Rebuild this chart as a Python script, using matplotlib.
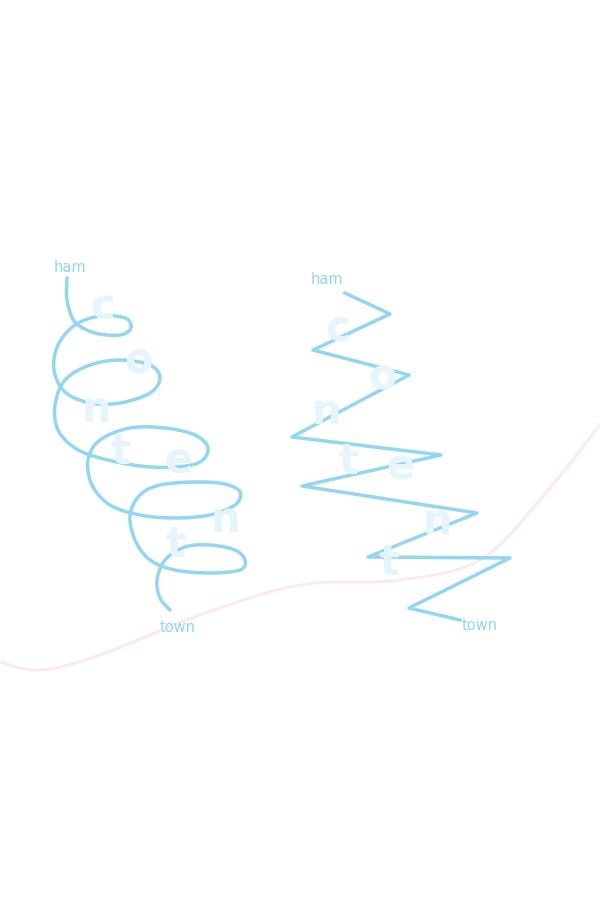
import numpy as np
import matplotlib
matplotlib.use("Agg")
import matplotlib.pyplot as plt

spiral_x = [67,67,75,95,120,131,125,100,75,58,54,65,90,120,150,160,150,120,90,65,55,58,75,100,140,175,200,208,195,165,130,100,88,92,110,140,175,210,235,240,225,195,160,140,130,135,150,175,210,240,245,235,210,185,165,157,160,170]
spiral_y = [278,300,322,333,335,328,318,316,325,345,370,392,403,403,393,378,365,360,365,380,405,430,448,458,466,467,462,448,435,428,428,440,460,485,505,515,518,515,505,492,484,482,485,495,515,540,560,570,573,570,560,550,545,547,560,580,598,610]
zig_x = [345,390,313,409,292,441,302,477,368,510,409,460]
zig_y = [293,314,350,375,437,455,486,513,557,558,608,620]
wave_x = [0,40,100,200,300,400,480,540,600]
wave_y = [662,670,655,615,585,580,560,500,425]
letters = list("content")
left_lx = [103,138,96,120,178,225,175]
left_ly = [308,362,410,452,462,520,545]
right_lx = [338,382,326,348,400,437,389]
right_ly = [330,378,412,462,468,522,563]

def smooth(x, y, n=12):
    p = np.array([x, y], float).T
    p = np.vstack([p[0], p, p[-1]])
    out = []
    for i in range(1, len(p) - 2):
        p0, p1, p2, p3 = p[i-1], p[i], p[i+1], p[i+2]
        for t in np.linspace(0, 1, n, endpoint=False):
            out.append(0.5*((2*p1) + (-p0+p2)*t + (2*p0-5*p1+4*p2-p3)*t*t + (-p0+3*p1-3*p2+p3)*t**3))
    out.append(p[-2])
    out = np.array(out)
    return out[:, 0], out[:, 1]

fig = plt.figure(figsize=(6, 9), dpi=100)
ax = fig.add_axes([0, 0, 1, 1])
ax.set_xlim(0, 600); ax.set_ylim(900, 0); ax.axis("off")

wx, wy = smooth(wave_x, wave_y)
ax.plot(wx, wy, color="#fde8ec", lw=2)
for L, x, y in zip(letters, left_lx, left_ly):
    ax.text(x, y, L, fontsize=30, color="#e6f4fb", ha="center", va="center", fontweight="bold")
for L, x, y in zip(letters, right_lx, right_ly):
    ax.text(x, y, L, fontsize=30, color="#e6f4fb", ha="center", va="center", fontweight="bold")
sx, sy = smooth(spiral_x, spiral_y)
ax.plot(sx, sy, color="#93d6ef", lw=2.5, solid_capstyle="round")
ax.plot(zig_x, zig_y, color="#93d6ef", lw=2.5)
c = "#93d6ef"
ax.text(70, 268, "ham", color=c, fontsize=10.5, ha="center", va="center")
ax.text(178, 628, "town", color=c, fontsize=10.5, ha="center", va="center")
ax.text(327, 280, "ham", color=c, fontsize=10.5, ha="center", va="center")
ax.text(480, 625, "town", color=c, fontsize=10.5, ha="center", va="center")
fig.savefig("out.png", dpi=100)
